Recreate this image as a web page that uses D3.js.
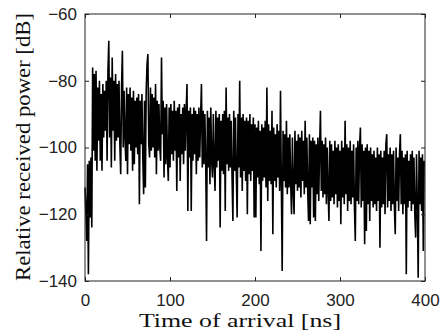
<!DOCTYPE html>
<html>
<head>
<meta charset="utf-8">
<script src="https://cdn.jsdelivr.net/npm/d3@7"></script>
<style>
  body { margin: 0; background: #fff; }
  svg { display: block; }
</style>
</head>
<body>
<div id="chart"></div>
<script>
// received power per 1 ns bin (dB)
const power = [
  -112, -119, -128, -105, -138, -104, -121, -103, -124, -76,
  -101, -78, -104, -77, -107, -82, -98, -80, -104, -84,
  -107, -81, -97, -83, -95, -80, -104, -77, -68, -97,
  -79, -106, -73, -95, -80, -104, -78, -98, -81, -97,
  -80, -99, -108, -82, -71, -100, -83, -97, -104, -82,
  -108, -84, -99, -82, -101, -85, -107, -83, -105, -86,
  -100, -85, -102, -84, -117, -86, -99, -84, -103, -114,
  -86, -112, -83, -75, -72, -99, -103, -82, -101, -84,
  -100, -85, -103, -81, -108, -86, -101, -87, -100, -104,
  -73, -96, -86, -109, -88, -105, -87, -103, -110, -88,
  -106, -87, -102, -89, -104, -86, -101, -89, -113, -88,
  -103, -87, -110, -90, -102, -88, -105, -87, -101, -89,
  -81, -119, -89, -103, -88, -119, -90, -104, -88, -102,
  -89, -108, -90, -104, -88, -103, -91, -81, -106, -89,
  -105, -90, -104, -128, -89, -106, -91, -111, -88, -104,
  -109, -90, -105, -113, -89, -106, -91, -104, -90, -124,
  -92, -107, -90, -108, -89, -119, -82, -105, -91, -107,
  -90, -106, -92, -109, -122, -89, -107, -91, -108, -121,
  -90, -106, -80, -109, -91, -113, -90, -107, -92, -110,
  -91, -120, -92, -108, -90, -110, -93, -107, -91, -121,
  -93, -121, -94, -109, -92, -111, -95, -131, -93, -110,
  -94, -109, -92, -112, -82, -116, -93, -110, -95, -111,
  -89, -126, -94, -110, -96, -112, -93, -109, -95, -113,
  -83, -111, -137, -95, -110, -96, -112, -92, -114, -97,
  -112, -96, -111, -120, -97, -113, -120, -95, -111, -98,
  -113, -96, -112, -97, -115, -95, -110, -98, -114, -92,
  -112, -97, -113, -122, -96, -123, -98, -112, -97, -121,
  -98, -122, -99, -114, -97, -116, -100, -89, -113, -98,
  -115, -99, -114, -97, -117, -100, -113, -122, -98, -116,
  -99, -115, -101, -117, -98, -114, -100, -118, -99, -116,
  -101, -123, -98, -115, -100, -117, -92, -114, -99, -119,
  -100, -116, -98, -117, -101, -115, -99, -118, -128, -100,
  -116, -98, -117, -100, -94, -118, -99, -116, -101, -129,
  -100, -125, -99, -117, -101, -122, -100, -116, -102, -118,
  -101, -117, -103, -119, -100, -116, -102, -130, -101, -118,
  -103, -117, -101, -120, -99, -96, -118, -102, -116, -100,
  -119, -102, -117, -101, -118, -126, -100, -116, -103, -119,
  -102, -96, -117, -101, -120, -103, -117, -102, -138, -101,
  -118, -104, -116, -102, -119, -101, -117, -103, -120, -127,
  -102, -118, -139, -101, -117, -103, -119, -102, -131, -104
];
const binNs = 1;

const xTicks = [0, 100, 200, 300, 400];
const yTicks = [-60, -80, -100, -120, -140];

const W = 443, H = 335;
const margin = { top: 14, right: 18, bottom: 54, left: 85 };
const width = W - margin.left - margin.right;
const height = H - margin.top - margin.bottom;

const svg = d3.select('#chart')
  .append('svg')
  .attr('width', W)
  .attr('height', H);

const g = svg.append('g')
  .attr('transform', 'translate(' + margin.left + ',' + margin.top + ')');

const x = d3.scaleLinear().domain([0, 400]).range([0, width]);
const y = d3.scaleLinear().domain([-140, -60]).range([height, 0]);

// signal
g.append('path')
  .datum(power)
  .attr('fill', 'none')
  .attr('stroke', '#000')
  .attr('stroke-width', 1.6)
  .attr('stroke-linejoin', 'miter')
  .attr('d', d3.line()
    .x((d, i) => x(i * binNs))
    .y((d) => y(d)));

// box and inward ticks (matlab style)
const tick = 4;
g.append('g')
  .attr('transform', 'translate(0,' + height + ')')
  .call(d3.axisBottom(x).tickValues(xTicks).tickSizeInner(-tick).tickSizeOuter(0).tickPadding(13))
  .call((a) => a.select('.domain').remove());
g.append('g')
  .call(d3.axisTop(x).tickValues(xTicks).tickSizeInner(-tick).tickSizeOuter(0).tickFormat(''))
  .call((a) => a.select('.domain').remove());
g.append('g')
  .call(d3.axisLeft(y).tickValues(yTicks).tickSizeInner(-tick).tickSizeOuter(0).tickPadding(8))
  .call((a) => a.select('.domain').remove());
g.append('g')
  .attr('transform', 'translate(' + width + ',0)')
  .call(d3.axisRight(y).tickValues(yTicks).tickSizeInner(-tick).tickSizeOuter(0).tickFormat(''))
  .call((a) => a.select('.domain').remove());

g.append('rect')
  .attr('x', 0)
  .attr('y', 0)
  .attr('width', width)
  .attr('height', height)
  .attr('fill', 'none')
  .attr('stroke', '#222')
  .attr('stroke-width', 1);

g.selectAll('.tick line').attr('stroke', '#222');
g.selectAll('.tick text')
  .attr('font-family', '"Liberation Sans", Arial, sans-serif')
  .attr('font-size', 17)
  .attr('fill', '#222');

// axis labels
svg.append('text')
  .attr('x', 240)
  .attr('y', 327)
  .attr('text-anchor', 'middle')
  .attr('font-family', '"Liberation Serif", "Times New Roman", serif')
  .attr('font-size', 19)
  .attr('fill', '#111')
  .attr('textLength', 202)
  .attr('lengthAdjust', 'spacingAndGlyphs')
  .text('Time of arrival [ns]');

svg.append('text')
  .attr('transform', 'translate(30,147) rotate(-90)')
  .attr('text-anchor', 'middle')
  .attr('font-family', '"Liberation Serif", "Times New Roman", serif')
  .attr('font-size', 22)
  .attr('fill', '#111')
  .attr('textLength', 268)
  .attr('lengthAdjust', 'spacingAndGlyphs')
  .text('Relative received power [dB]');
</script>
</body>
</html>
